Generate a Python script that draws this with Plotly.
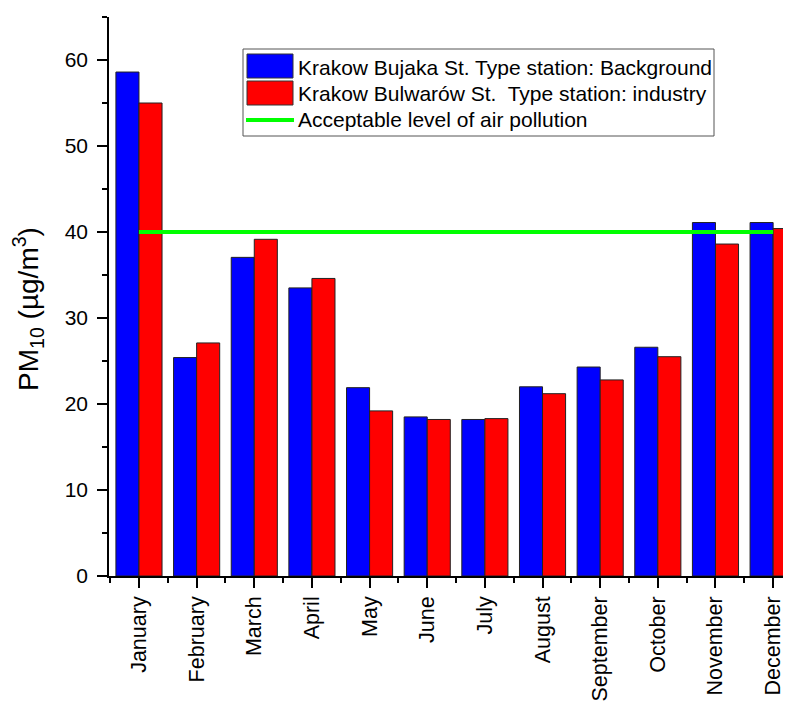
import plotly.graph_objects as go

months = ["January", "February", "March", "April", "May", "June", "July",
          "August", "September", "October", "November", "December"]
bujaka = [58.6, 25.4, 37.05, 33.5, 21.9, 18.5, 18.2, 22.0, 24.3, 26.6, 41.1, 41.1]
bulwarow = [55.0, 27.1, 39.15, 34.6, 19.2, 18.2, 18.3, 21.2, 22.8, 25.5, 38.6, 40.4]
limit_level = 40
series_names = ["Krakow Bujaka St. Type station: Background",
                "Krakow Bulwarów St.  Type station: industry",
                "Acceptable level of air pollution"]
y_title = "PM<sub>10</sub> (µg/m<sup>3</sup>)"

# page body has an 8px margin, so the figure is sized/positioned to compensate
OFF = 8
W, H = 791 - OFF, 707 - OFF
ML, MR, MT, MB = 109 - OFF, 0, 17 - OFF, 131
FONT = "Arial, Liberation Sans, sans-serif"

x_idx = list(range(len(months)))

fig = go.Figure()
fig.add_trace(go.Bar(x=x_idx, y=bujaka, name=series_names[0],
                     marker=dict(color="#0000ff", line=dict(color="#222222", width=1))))
fig.add_trace(go.Bar(x=x_idx, y=bulwarow, name=series_names[1],
                     marker=dict(color="#ff0000", line=dict(color="#222222", width=1))))
fig.add_trace(go.Scatter(x=[x_idx[0], x_idx[-1]], y=[limit_level, limit_level],
                         mode="lines", name=series_names[2],
                         line=dict(color="#00ff00", width=4)))

# custom legend (page pixel -> paper helpers)
pw = W - ML - MR
ph = H - MT - MB
def px(X):
    return (X - OFF - ML) / pw
def py(Y):
    return (H - MB - (Y - OFF)) / ph

shapes = [
    dict(type="rect", xref="paper", yref="paper", x0=px(243), x1=px(714), y0=py(136), y1=py(49),
         line=dict(color="#555555", width=1), fillcolor="white", layer="above"),
    dict(type="rect", xref="paper", yref="paper", x0=px(247), x1=px(293), y0=py(78), y1=py(54),
         line=dict(color="#333333", width=1), fillcolor="#0000ff", layer="above"),
    dict(type="rect", xref="paper", yref="paper", x0=px(247), x1=px(293), y0=py(105), y1=py(81),
         line=dict(color="#333333", width=1), fillcolor="#ff0000", layer="above"),
    dict(type="line", xref="paper", yref="paper", x0=px(246), x1=px(294), y0=py(120), y1=py(120),
         line=dict(color="#00ff00", width=4), layer="above"),
]
annotations = []
for name, yc in zip(series_names, [67, 93, 120]):
    annotations.append(dict(xref="paper", yref="paper", x=px(296), y=py(yc), text=name,
                            showarrow=False, xanchor="left", yanchor="middle",
                            font=dict(family=FONT, size=21, color="black")))
annotations.append(dict(xref="paper", yref="paper", x=px(28), y=py(309), text=y_title,
                        textangle=-90, showarrow=False, xanchor="center", yanchor="middle",
                        font=dict(family=FONT, size=28, color="black")))

fig.update_layout(
    width=W, height=H,
    margin=dict(l=ML, r=MR, t=MT, b=MB, autoexpand=False),
    plot_bgcolor="white", paper_bgcolor="white",
    barmode="group", bargap=0.2, bargroupgap=0,
    showlegend=False,
    font=dict(family=FONT, color="black"),
    shapes=shapes, annotations=annotations,
    xaxis=dict(range=[-0.52, 11.31], tickmode="array", tickvals=x_idx, ticktext=months,
               tickangle=-90, ticks="outside", ticklen=10, tickwidth=1.5, tickcolor="black",
               showline=True, linecolor="black", linewidth=1.5, showgrid=False, zeroline=False,
               automargin=False,
               tickfont=dict(family=FONT, size=21.5, color="black"),
               minor=dict(tickmode="array", tickvals=[i - 0.5 for i in range(len(months) + 1)],
                          ticks="outside", ticklen=5, tickwidth=1.5, tickcolor="black", showgrid=False)),
    yaxis=dict(range=[0, 65], dtick=10, tick0=0, ticks="outside", ticklen=10, tickwidth=1.5,
               tickcolor="black", showline=True, linecolor="black", linewidth=1.5,
               showgrid=False, zeroline=False, automargin=False, ticklabelstandoff=5,
               tickfont=dict(family=FONT, size=21, color="black"),
               minor=dict(dtick=5, tick0=0, ticks="outside", ticklen=5, tickwidth=1.5,
                          tickcolor="black", showgrid=False)),
)

fig.write_html("out.html")
